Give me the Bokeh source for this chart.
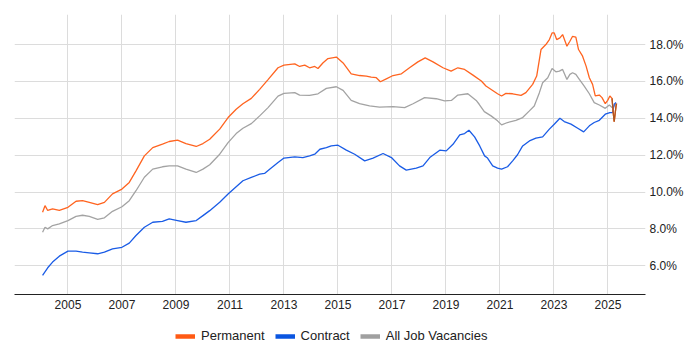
from bokeh.plotting import figure
from bokeh.layouts import column
from bokeh.models import FixedTicker, PrintfTickFormatter, Legend, LegendItem, Range1d
from bokeh.embed import file_html
from bokeh.resources import INLINE

# ---- data (decimal year, % share) ----
perm_years = [2004.06, 2004.15, 2004.25, 2004.43, 2004.68, 2005.0, 2005.3, 2005.54, 2005.79, 2006.1,
              2006.35, 2006.65, 2007.0, 2007.27, 2007.52, 2007.83, 2008.14, 2008.5, 2008.75, 2009.06,
              2009.37, 2009.75, 2010.0, 2010.25, 2010.62, 2010.93, 2011.23, 2011.48, 2011.79, 2012.1,
              2012.41, 2012.78, 2013.0, 2013.4, 2013.58, 2013.77, 2013.95, 2014.14, 2014.26, 2014.44,
              2014.63, 2014.94, 2015.19, 2015.49, 2015.8, 2016.05, 2016.23, 2016.42, 2016.57, 2016.79,
              2017.04, 2017.35, 2017.65, 2017.96, 2018.23, 2018.52, 2018.89, 2019.19, 2019.44, 2019.69,
              2020.0, 2020.31, 2020.48, 2020.73, 2020.91, 2021.06, 2021.22, 2021.47, 2021.78, 2021.96,
              2022.21, 2022.36, 2022.52, 2022.7, 2022.83, 2022.93, 2023.01, 2023.1, 2023.22, 2023.32,
              2023.48, 2023.59, 2023.69, 2023.81, 2023.91, 2024.06, 2024.19, 2024.31, 2024.43, 2024.53,
              2024.68, 2024.78, 2024.9, 2024.99, 2025.07, 2025.15, 2025.2, 2025.23, 2025.3, 2025.32]
perm_values = [8.9, 9.26, 9.0, 9.08, 9.0, 9.17, 9.5, 9.53, 9.44, 9.32,
               9.44, 9.9, 10.16, 10.52, 11.15, 11.96, 12.41, 12.6, 12.74, 12.81,
               12.63, 12.47, 12.63, 12.86, 13.41, 14.04, 14.49, 14.79, 15.08, 15.57,
               16.1, 16.74, 16.88, 16.95, 16.81, 16.88, 16.74, 16.81, 16.7, 17.0,
               17.24, 17.32, 17.0, 16.41, 16.32, 16.29, 16.23, 16.2, 15.98, 16.14,
               16.32, 16.41, 16.74, 17.06, 17.28, 17.06, 16.74, 16.56, 16.74, 16.65,
               16.34, 16.02, 15.75, 15.51, 15.33, 15.21, 15.35, 15.33, 15.24, 15.39,
               15.84, 16.29, 17.73, 18.0, 18.27, 18.63, 18.63, 18.27, 18.36, 18.54,
               17.91, 18.18, 18.45, 18.4, 17.73, 17.37, 16.83, 16.2, 15.84, 15.21,
               15.26, 15.12, 14.79, 14.97, 15.21, 15.08, 14.22, 13.82, 14.67, 14.79]

contract_years = [2004.06, 2004.25, 2004.43, 2004.68, 2005.0, 2005.3, 2005.54, 2005.79, 2006.1, 2006.35,
                  2006.65, 2007.0, 2007.27, 2007.52, 2007.83, 2008.14, 2008.5, 2008.75, 2009.06, 2009.37,
                  2009.75, 2010.0, 2010.25, 2010.62, 2010.93, 2011.23, 2011.48, 2011.79, 2012.1, 2012.28,
                  2012.47, 2012.78, 2013.0, 2013.4, 2013.7, 2013.95, 2014.14, 2014.33, 2014.57, 2014.75,
                  2015.0, 2015.31, 2015.62, 2015.99, 2016.3, 2016.67, 2016.98, 2017.28, 2017.53, 2017.9,
                  2018.15, 2018.4, 2018.77, 2019.01, 2019.26, 2019.51, 2019.69, 2019.85, 2020.06, 2020.25,
                  2020.43, 2020.54, 2020.73, 2020.91, 2021.06, 2021.28, 2021.47, 2021.65, 2021.84, 2022.09,
                  2022.33, 2022.58, 2022.83, 2023.01, 2023.22, 2023.38, 2023.63, 2023.88, 2024.1, 2024.31,
                  2024.49, 2024.68, 2024.9, 2025.07, 2025.17, 2025.23, 2025.3]
contract_values = [5.48, 5.89, 6.2, 6.52, 6.79, 6.79, 6.74, 6.7, 6.65, 6.74,
                   6.92, 7.0, 7.23, 7.64, 8.09, 8.36, 8.41, 8.54, 8.45, 8.36,
                   8.45, 8.72, 8.99, 9.44, 9.89, 10.29, 10.61, 10.79, 10.97, 11.01,
                   11.24, 11.6, 11.84, 11.91, 11.87, 11.96, 12.05, 12.32, 12.41, 12.5,
                   12.54, 12.27, 12.05, 11.69, 11.84, 12.09, 11.87, 11.42, 11.19, 11.3,
                   11.42, 11.87, 12.27, 12.23, 12.59, 13.1, 13.17, 13.35, 12.99, 12.5,
                   11.96, 11.84, 11.42, 11.3, 11.24, 11.37, 11.69, 12.02, 12.5, 12.77,
                   12.92, 12.99, 13.41, 13.68, 14.0, 13.82, 13.68, 13.46, 13.26, 13.59,
                   13.77, 13.89, 14.22, 14.31, 14.31, 14.76, 14.85]

all_years = [2004.06, 2004.15, 2004.25, 2004.43, 2004.68, 2005.0, 2005.3, 2005.54, 2005.79, 2006.1,
             2006.35, 2006.65, 2007.0, 2007.27, 2007.52, 2007.83, 2008.14, 2008.5, 2008.75, 2009.06,
             2009.37, 2009.75, 2010.0, 2010.25, 2010.62, 2010.93, 2011.23, 2011.48, 2011.79, 2012.1,
             2012.41, 2012.78, 2013.0, 2013.4, 2013.58, 2013.95, 2014.26, 2014.57, 2014.94, 2015.19,
             2015.49, 2015.8, 2016.17, 2016.54, 2017.04, 2017.47, 2017.78, 2018.21, 2018.64, 2018.95,
             2019.2, 2019.44, 2019.81, 2020.12, 2020.23, 2020.42, 2020.67, 2020.91, 2021.06, 2021.28,
             2021.59, 2021.84, 2022.09, 2022.27, 2022.46, 2022.58, 2022.77, 2022.93, 2023.07, 2023.2,
             2023.32, 2023.48, 2023.59, 2023.69, 2023.81, 2023.94, 2024.12, 2024.31, 2024.49, 2024.68,
             2024.9, 2025.05, 2025.15, 2025.23, 2025.3]
all_values = [7.82, 8.09, 8.0, 8.18, 8.27, 8.45, 8.68, 8.74, 8.68, 8.52,
              8.6, 8.95, 9.2, 9.53, 10.07, 10.8, 11.24, 11.37, 11.42, 11.42,
              11.24, 11.06, 11.24, 11.48, 12.05, 12.68, 13.17, 13.46, 13.71, 14.13,
              14.58, 15.2, 15.35, 15.39, 15.26, 15.24, 15.33, 15.62, 15.71, 15.51,
              14.97, 14.79, 14.67, 14.61, 14.63, 14.58, 14.79, 15.12, 15.06, 14.94,
              14.97, 15.26, 15.33, 14.97, 14.76, 14.36, 14.13, 13.86, 13.64, 13.77,
              13.89, 14.04, 14.4, 14.67, 15.39, 15.93, 16.2, 16.7, 16.52, 16.56,
              16.65, 16.11, 16.38, 16.47, 16.38, 16.11, 15.75, 15.33, 14.85, 14.72,
              14.54, 14.72, 14.58, 14.67, 14.79]

x_tick_years = [2005, 2007, 2009, 2011, 2013, 2015, 2017, 2019, 2021, 2023, 2025]
y_tick_values = [6, 8, 10, 12, 14, 16, 18]

series_names = ["Permanent", "Contract", "All Job Vacancies"]
series_colors = ["#FF6420", "#1A5CE6", "#A3A3A3"]
legend_colors = ["#FF5A14", "#0A55E0", "#A0A0A0"]
tail_color = "#B0561E"

FONT = "Liberation Sans"

p = figure(width=690, height=318, output_backend="svg", toolbar_location=None,
           y_axis_location="right", x_range=Range1d(2003.02, 2026.39), y_range=Range1d(4.44, 19.63),
           min_border_left=14, min_border_top=14, min_border_right=45, min_border_bottom=24)
p.outline_line_color = None
p.background_fill_color = "white"
p.border_fill_color = "white"

# gridlines
p.xgrid.ticker = FixedTicker(ticks=x_tick_years)
p.ygrid.ticker = FixedTicker(ticks=y_tick_values)
for g in (p.xgrid, p.ygrid):
    g.grid_line_color = "#DCDCDC"
    g.grid_line_width = 1

# x axis
xa = p.xaxis[0]
xa.ticker = FixedTicker(ticks=x_tick_years)
xa.axis_line_color = "#222222"
xa.axis_line_width = 1
xa.major_tick_line_color = None
xa.minor_tick_line_color = None
xa.major_tick_out = 0
xa.major_tick_in = 0
xa.major_label_standoff = 5
xa.major_label_text_font = FONT
xa.major_label_text_font_size = "12px"
xa.major_label_text_color = "#222222"

# y axis (right)
ya = p.yaxis[0]
ya.ticker = FixedTicker(ticks=y_tick_values)
ya.formatter = PrintfTickFormatter(format="%.1f%%")
ya.axis_line_color = None
ya.major_tick_line_color = None
ya.minor_tick_line_color = None
ya.major_tick_out = 0
ya.major_tick_in = 0
ya.major_label_standoff = 4
ya.major_label_text_font = FONT
ya.major_label_text_font_size = "12px"
ya.major_label_text_color = "#222222"

# lines (drawn: all, contract, permanent on top)
p.line(all_years, all_values, line_color=series_colors[2], line_width=1.3)
p.line(contract_years, contract_values, line_color=series_colors[1], line_width=1.3)
p.line(perm_years, perm_values, line_color=series_colors[0], line_width=1.3)
tail_start = perm_years.index(2025.15)
p.line(perm_years[tail_start:], perm_values[tail_start:], line_color=tail_color, line_width=1.3)

# legend strip (separate figure below the chart)
lg = figure(width=690, height=30, output_backend="svg", toolbar_location=None,
            x_axis_location=None, y_axis_location=None,
            x_range=Range1d(0, 1), y_range=Range1d(0, 1), min_border=0)
lg.outline_line_color = None
lg.grid.visible = False
lg.background_fill_color = "white"
lg.border_fill_color = "white"

items = []
for name, col in zip(series_names, legend_colors):
    # off-range points: only the legend swatch is visible
    r = lg.line([5, 6], [5, 6], line_color=col, line_width=4.5)
    items.append(LegendItem(label=name, renderers=[r]))

legend = Legend(items=items, orientation="horizontal", location=(161, 5),
                glyph_width=20, glyph_height=12, label_standoff=6, spacing=10,
                padding=0, margin=0, border_line_color=None, background_fill_alpha=0,
                label_text_font=FONT, label_text_font_size="13px", label_text_color="#222222",
                label_height=14)
lg.add_layout(legend)

layout = column(p, lg, spacing=0)
open("out.html", "w").write(file_html(layout, INLINE))
